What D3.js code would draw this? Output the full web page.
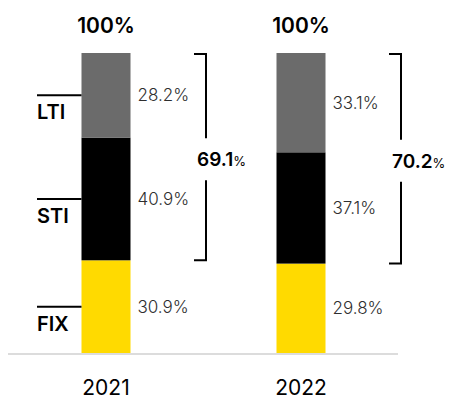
<!DOCTYPE html>
<html>
<head>
<meta charset="utf-8">
<script src="https://cdn.jsdelivr.net/npm/d3@7"></script>
<style>
  body { margin: 0; background: #fff; }
  text { font-family: Inter, "Noto Sans", sans-serif; }
</style>
</head>
<body>
<div id="chart"></div>
<script>
const years = ["2021", "2022"];
const components = ["FIX", "STI", "LTI"];
const fixVals = [30.9, 29.8];
const stiVals = [40.9, 37.1];
const ltiVals = [28.2, 33.1];
const variableTotals = ["69.1", "70.2"];
const colors = { FIX: "#ffda00", STI: "#000000", LTI: "#6b6b6b" };

const width = 450, height = 399;
const svg = d3.select("#chart").append("svg")
  .attr("width", width).attr("height", height);

const x = d3.scalePoint().domain(years).range([106, 301]);
const barW = 49;
const y = d3.scaleLinear().domain([0, 100]).range([353, 53]);

const rows = years.map((yr, i) => ({ year: yr, FIX: fixVals[i], STI: stiVals[i], LTI: ltiVals[i], total: variableTotals[i] }));
const stacked = d3.stack().keys(components)(rows);

// baseline
svg.append("line")
  .attr("x1", 8).attr("x2", 398)
  .attr("y1", y(0) + 1).attr("y2", y(0) + 1)
  .attr("stroke", "#dcdcdc").attr("stroke-width", 2);

// bars
const layers = svg.selectAll("g.layer").data(stacked).enter().append("g")
  .attr("class", "layer").attr("fill", (d) => colors[d.key]);
layers.selectAll("rect").data((d) => d).enter().append("rect")
  .attr("x", (d) => x(d.data.year) - barW / 2)
  .attr("width", barW)
  .attr("y", (d) => y(d[1]))
  .attr("height", (d) => y(d[0]) - y(d[1]));

// value labels
layers.selectAll("text").data((d) => d.map((s) => ({ s, key: d.key }))).enter().append("text")
  .attr("x", (d) => x(d.s.data.year) + barW / 2 + 7)
  .attr("y", (d) => y((d.s[0] + d.s[1]) / 2))
  .attr("dy", "0.35em")
  .attr("fill", "#2e2e2e")
  .attr("font-size", 17)
  .attr("font-weight", 300)
  .text((d) => d.s.data[d.key].toFixed(1) + "%");

// category labels with leader lines (left of first bar)
const first = stacked.map((layer) => ({ key: layer.key, s: layer[0] }));
first.forEach((d) => {
  const my = y((d.s[0] + d.s[1]) / 2);
  const left = x(years[0]) - barW / 2;
  svg.append("line")
    .attr("x1", 37).attr("x2", left)
    .attr("y1", my).attr("y2", my)
    .attr("stroke", "#000").attr("stroke-width", 2);
  svg.append("text")
    .attr("x", 37).attr("y", my + 24)
    .attr("font-size", 20).attr("font-weight", 600)
    .attr("fill", "#000")
    .text(d.key);
});

// totals on top
svg.selectAll("text.total").data(years).enter().append("text")
  .attr("class", "total")
  .attr("x", (d) => x(d)).attr("y", 33)
  .attr("text-anchor", "middle")
  .attr("font-size", 21).attr("font-weight", 600)
  .text("100%");

// year labels
svg.selectAll("text.year").data(years).enter().append("text")
  .attr("class", "year")
  .attr("x", (d) => x(d)).attr("y", 395)
  .attr("text-anchor", "middle")
  .attr("font-size", 21).attr("font-weight", 400)
  .attr("fill", "#000")
  .text((d) => d);

// brackets for variable pay (STI + LTI)
rows.forEach((r) => {
  const bx = x(r.year) + 100;
  const top = y(100) + 1;
  const bot = y(r.FIX);
  const mid = (top + bot) / 2 + 2;
  const gap = 21;
  svg.append("path")
    .attr("d", `M${bx - 12},${top}H${bx}V${mid - gap}`)
    .attr("fill", "none").attr("stroke", "#000").attr("stroke-width", 2);
  svg.append("path")
    .attr("d", `M${bx},${mid + gap}V${bot}H${bx - 12}`)
    .attr("fill", "none").attr("stroke", "#000").attr("stroke-width", 2);
  const t = svg.append("text")
    .attr("x", bx - 9).attr("y", mid + 7)
    .attr("font-size", 19).attr("font-weight", 600);
  t.append("tspan").text(r.total);
  t.append("tspan").attr("font-size", 13).attr("font-weight", 400).text("%");
});
</script>
</body>
</html>
